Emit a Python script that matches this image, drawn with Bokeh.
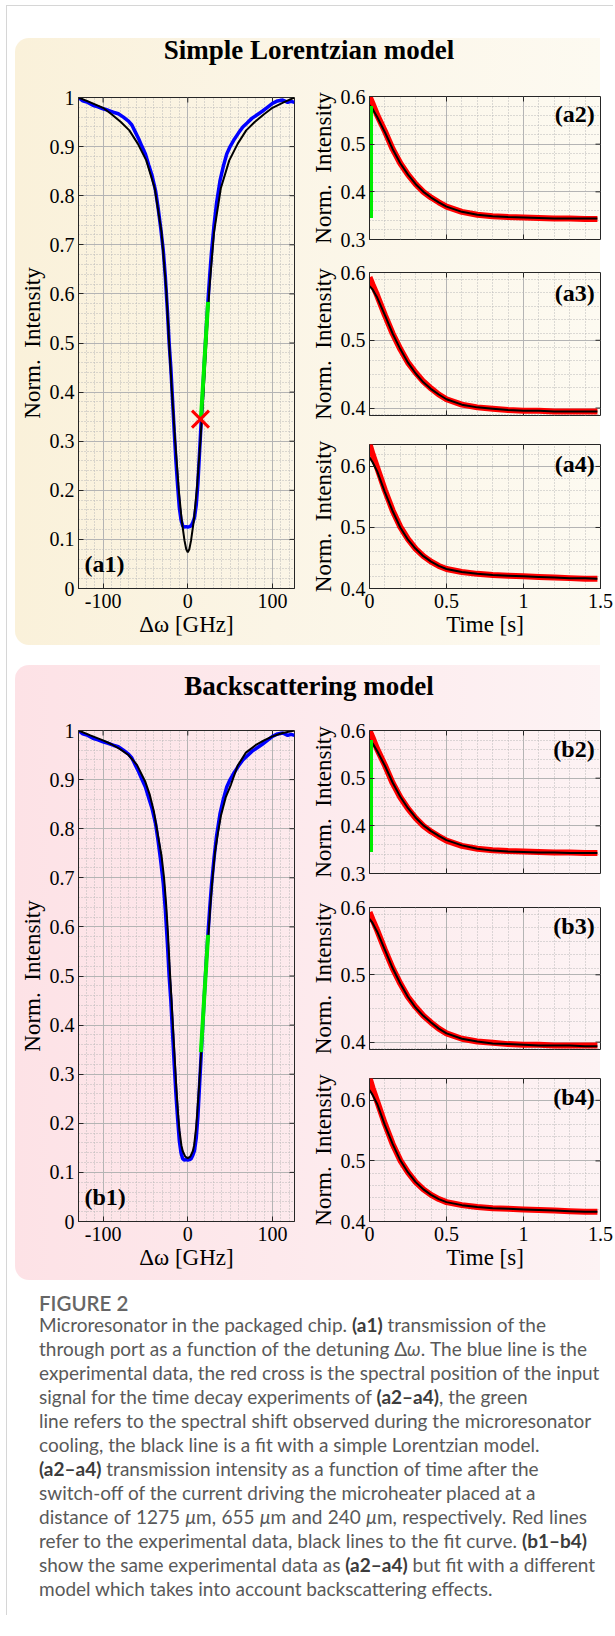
import numpy as np
from bokeh.plotting import figure
from bokeh.models import Range1d, FixedTicker, Label, Div, CustomJSTickFormatter
from bokeh.layouts import column, row
from bokeh.embed import file_html
from bokeh.resources import INLINE

# ---------------- data ----------------
# detuning scan (GHz) : experimental transmission (blue)
det_x = [-129, -124, -118, -112, -106, -100, -94, -88, -82, -76, -70, -66, -62, -58, -54, -50,
         -46, -42, -38, -35, -32, -29, -26.5, -24, -22, -20, -18, -16, -14, -12, -10, -8, -6,
         -4, -2, 0, 2, 4, 6, 8, 10, 12, 14, 16, 18, 20, 22, 24, 26, 28, 31, 34, 38, 42, 46,
         50, 55, 60, 65, 70, 76, 82, 88, 94, 100, 106, 112, 118, 122, 126]
det_blue = [1.0, 0.993, 0.99, 0.984, 0.981, 0.977, 0.974, 0.97, 0.967, 0.96, 0.952, 0.944,
            0.93, 0.916, 0.9, 0.885, 0.862, 0.84, 0.81, 0.775, 0.735, 0.69, 0.635, 0.565,
            0.5, 0.45, 0.385, 0.32, 0.26, 0.21, 0.165, 0.14, 0.128, 0.125, 0.126, 0.125,
            0.126, 0.128, 0.135, 0.145, 0.17, 0.215, 0.28, 0.345, 0.41, 0.475, 0.535, 0.59,
            0.64, 0.685, 0.74, 0.785, 0.83, 0.86, 0.885, 0.9, 0.915, 0.928, 0.94, 0.948,
            0.958, 0.965, 0.972, 0.98, 0.988, 0.993, 0.995, 0.99, 0.992, 0.99]

# simple Lorentzian fit (black, a1)
fit_a1_x = [-129, -115, -100, -90, -79, -69, -59, -49, -39, -31, -25.5, -22, -18.8, -14.9,
            -10.6, -7.1, -3.9, -1.8, 0, 1.8, 3.9, 7.1, 10.6, 14.9, 18.8, 22, 25.5, 31, 39,
            49, 59, 69, 79, 90, 100, 113, 126]
fit_a1_y = [1.0, 0.99, 0.979, 0.966, 0.95, 0.933, 0.906, 0.872, 0.815, 0.726, 0.611, 0.5,
            0.403, 0.301, 0.2, 0.138, 0.098, 0.08, 0.074, 0.08, 0.098, 0.138, 0.2, 0.301,
            0.403, 0.5, 0.611, 0.726, 0.815, 0.872, 0.906, 0.933, 0.95, 0.966, 0.979, 0.99, 1.0]

# backscattering fit (black, b1)
fit_b1_x = [-129, -115, -100, -90, -80, -70, -60, -50, -45, -40, -35, -31, -28, -25.5, -23.5,
            -21.6, -19.5, -17.6, -15.5, -13.7, -11.5, -9.8, -7.5, -5.9, -3, 0, 3, 5.9, 7.5,
            9.8, 11.5, 13.7, 15.7, 17.6, 19.7, 22.3, 24.5, 26.7, 29, 32.2, 35.5, 39.2, 45,
            51, 58.8, 68.6, 80, 90, 100, 112, 126]
fit_b1_y = [1.0, 0.99, 0.98, 0.972, 0.962, 0.95, 0.93, 0.895, 0.87, 0.835, 0.785, 0.745, 0.7,
            0.645, 0.59, 0.525, 0.46, 0.4, 0.335, 0.278, 0.22, 0.185, 0.155, 0.143, 0.132,
            0.129, 0.132, 0.143, 0.155, 0.19, 0.23, 0.285, 0.342, 0.4, 0.46, 0.523, 0.585,
            0.645, 0.695, 0.753, 0.79, 0.827, 0.865, 0.89, 0.928, 0.955, 0.97, 0.98, 0.988,
            0.995, 1.0]

# spectral shift during cooling (green) and input-signal position (red cross)
shift_x = [15.5, 24.0]
shift_y = [0.345, 0.584]
cross_x = [15.0]
cross_y = [0.345]

# time decays
time_t = [0.0, 0.02, 0.05, 0.1, 0.15, 0.2, 0.25, 0.3, 0.35, 0.4, 0.45, 0.5, 0.6, 0.7, 0.8,
          0.9, 1.0, 1.1, 1.2, 1.3, 1.4, 1.48]
red_2 = [0.600, 0.585, 0.561, 0.527, 0.490, 0.460, 0.436, 0.416, 0.400, 0.388, 0.378, 0.369,
         0.358, 0.352, 0.349, 0.347, 0.346, 0.345, 0.344, 0.344, 0.343, 0.343]
fit_a2 = [0.582, 0.574, 0.557, 0.525, 0.490, 0.460, 0.436, 0.416, 0.400, 0.388, 0.378, 0.369,
          0.358, 0.352, 0.349, 0.347, 0.346, 0.345, 0.344, 0.344, 0.344, 0.344]
fit_b2 = [0.580, 0.573, 0.557, 0.526, 0.491, 0.461, 0.437, 0.417, 0.401, 0.389, 0.379, 0.370,
          0.359, 0.352, 0.348, 0.346, 0.345, 0.344, 0.344, 0.343, 0.343, 0.343]
red_3 = [0.593, 0.582, 0.566, 0.537, 0.510, 0.487, 0.467, 0.452, 0.439, 0.429, 0.420, 0.413,
         0.405, 0.401, 0.399, 0.397, 0.396, 0.396, 0.395, 0.395, 0.395, 0.395]
fit_a3 = [0.580, 0.575, 0.563, 0.537, 0.510, 0.487, 0.467, 0.451, 0.438, 0.428, 0.420, 0.413,
          0.405, 0.401, 0.399, 0.397, 0.396, 0.396, 0.395, 0.395, 0.395, 0.395]
fit_b3 = [0.583, 0.577, 0.564, 0.537, 0.510, 0.487, 0.467, 0.451, 0.439, 0.429, 0.420, 0.413,
          0.405, 0.401, 0.398, 0.397, 0.396, 0.395, 0.395, 0.395, 0.394, 0.394]
red_4 = [0.637, 0.620, 0.598, 0.561, 0.528, 0.501, 0.481, 0.465, 0.453, 0.444, 0.437, 0.432,
         0.427, 0.424, 0.422, 0.421, 0.420, 0.419, 0.418, 0.417, 0.416, 0.416]
fit_a4 = [0.615, 0.607, 0.592, 0.558, 0.527, 0.500, 0.480, 0.465, 0.453, 0.444, 0.437, 0.432,
          0.427, 0.424, 0.422, 0.421, 0.420, 0.419, 0.418, 0.417, 0.417, 0.416]
fit_b4 = [0.617, 0.609, 0.594, 0.559, 0.528, 0.501, 0.481, 0.465, 0.453, 0.444, 0.437, 0.432,
          0.427, 0.424, 0.422, 0.421, 0.420, 0.419, 0.418, 0.417, 0.416, 0.416]
shift_t = [0.0, 0.0]
shift_i = [0.345, 0.58]

# axes ticks
det_ticks = [-100, 0, 100]
time_ticks = [0, 0.5, 1, 1.5]
int_ticks_full = [0, 0.1, 0.2, 0.3, 0.4, 0.5, 0.6, 0.7, 0.8, 0.9, 1]
int_ticks_2 = [0.3, 0.4, 0.5, 0.6]
int_ticks_34 = [0.4, 0.5, 0.6]

# ---------------- styling ----------------
SERIF = "Liberation Serif"
AX = "#262626"
BLUE = "#0000ff"
RED = "#ff0000"
GREEN = "#00ee00"
TICK_PX = 5


def minor(lo, hi, step, majors):
    vals = np.round(np.arange(lo, hi + step / 2, step), 4)
    return [float(v) for v in vals if all(abs(v - m) > 1e-6 for m in majors)]


def box_ticks(p, xr, yr, fw, fh, xt, yt, bottom_too):
    """inward tick marks on the top/right (and optionally bottom) frame edges"""
    dx = TICK_PX * (xr[1] - xr[0]) / fw
    dy = TICK_PX * (yr[1] - yr[0]) / fh
    yin = [v for v in yt if yr[0] < v < yr[1]]
    xin = [v for v in xt if xr[0] < v < xr[1]]
    p.segment(x0=[xr[1]] * len(yin), y0=yin, x1=[xr[1] - dx] * len(yin), y1=yin,
              line_color=AX, line_width=1)
    p.segment(x0=xin, y0=[yr[1]] * len(xin), x1=xin, y1=[yr[1] - dy] * len(xin),
              line_color=AX, line_width=1)
    if bottom_too:
        p.segment(x0=xin, y0=[yr[0]] * len(xin), x1=xin, y1=[yr[0] + dy] * len(xin),
                  line_color=AX, line_width=1)


def make_fig(fw, fh, xr, yr, borders, xt, xm, yt, ym, xlabel, ylabel, ylab_standoff):
    l, r, t, b = borders
    p = figure(frame_width=fw, frame_height=fh, x_range=Range1d(*xr), y_range=Range1d(*yr),
               output_backend="svg", toolbar_location=None,
               min_border_left=l, min_border_right=r, min_border_top=t, min_border_bottom=b,
               background_fill_color=None, border_fill_color=None,
               outline_line_color=AX, outline_line_width=1)
    xtk = FixedTicker(ticks=xt, minor_ticks=xm)
    ytk = FixedTicker(ticks=yt, minor_ticks=ym)
    xa = p.xaxis[0]
    ya = p.yaxis[0]
    xa.ticker = xtk
    ya.ticker = ytk
    for ax in (xa, ya):
        ax.formatter = CustomJSTickFormatter(code="return String(Math.round(tick*1000)/1000);")
        ax.major_tick_in = TICK_PX
        ax.major_tick_out = 0
        ax.minor_tick_in = 0
        ax.minor_tick_out = 0
        ax.major_tick_line_color = AX
        ax.axis_line_color = AX
        ax.major_label_text_font = SERIF
        ax.major_label_text_font_size = "20px"
        ax.major_label_text_color = "black"
        ax.axis_label_text_font = SERIF
        ax.axis_label_text_font_size = "23px"
        ax.axis_label_text_font_style = "normal"
        ax.axis_label_text_color = "black"
    ya.major_label_standoff = 4
    ya.axis_label_standoff = ylab_standoff
    ya.axis_label = ylabel
    if xlabel:
        xa.major_label_standoff = 5
        xa.axis_label_standoff = 1
        xa.axis_label = xlabel
    else:
        xa.visible = False
    p.xgrid[0].ticker = xtk
    p.ygrid[0].ticker = ytk
    for g in (p.xgrid[0], p.ygrid[0]):
        g.grid_line_color = "#b4b4b4"
        g.grid_line_width = 1
        g.minor_grid_line_color = "#b9b9b9"
        g.minor_grid_line_dash = "1 2"
        g.minor_grid_line_width = 1
    box_ticks(p, xr, yr, fw, fh, xt, yt, not xlabel)
    return p


def label(p, x, y, text, align):
    p.add_layout(Label(x=x, y=y, text=text, text_font=SERIF, text_font_style="bold",
                       text_font_size="24px", text_align=align, text_baseline="middle",
                       text_color="black"))


det_minor = minor(-120, 120, 10, det_ticks)
time_minor = minor(0, 1.5, 0.1, time_ticks)
full_minor = minor(0, 1, 0.02, int_ticks_full)
minor_2 = minor(0.3, 0.6, 0.02, int_ticks_2)
minor_3 = minor(0.39, 0.6, 0.02, int_ticks_34)
minor_4 = minor(0.4, 0.62, 0.02, int_ticks_34)

YL = "Norm.\u00a0 Intensity"


def detuning_panel(fit_x, fit_y, tag, top, bottom, with_cross):
    p = make_fig(216, 491, (-129, 126), (0, 1), (63, 9, top, bottom),
                 det_ticks, det_minor, int_ticks_full, full_minor, "Δω [GHz]", YL, 2)
    p.line(det_x, det_blue, line_color=BLUE, line_width=3.5)
    p.line(fit_x, fit_y, line_color="black", line_width=2)
    p.line(shift_x, shift_y, line_color=GREEN, line_width=4)
    if with_cross:
        p.scatter(cross_x, cross_y, marker="x", size=24, line_color=RED, line_width=3)
    label(p, -122, 0.05, tag, "left")
    return p


def decay_panel(fh, yr, borders, yt, ym, red, fit, tag, tag_y, xlabel, green):
    p = make_fig(231, fh, (0, 1.5), yr, borders, time_ticks, time_minor, yt, ym,
                 xlabel, YL, 2)
    p.line(time_t, red, line_color=RED, line_width=6)
    p.line(time_t, fit, line_color="black", line_width=2)
    if green:
        p.line(shift_t, shift_i, line_color=GREEN, line_width=7)
    label(p, 1.462, tag_y, tag, "right")
    return p


# ---------------- panel a ----------------
a1 = detuning_panel(fit_a1_x, fit_a1_y, "(a1)", 17, 57, True)
a2 = decay_panel(143, (0.3, 0.6), (66, 13, 16, 16), int_ticks_2, minor_2, red_2, fit_a2,
                 "(a2)", 0.564, None, True)
a3 = decay_panel(143, (0.389, 0.6), (66, 13, 17, 15), int_ticks_34, minor_3, red_3, fit_a3,
                 "(a3)", 0.570, None, False)
a4 = decay_panel(144, (0.4, 0.636), (66, 13, 14, 57), int_ticks_34, minor_4, red_4, fit_a4,
                 "(a4)", 0.604, "Time [s]", False)

# ---------------- panel b ----------------
b1 = detuning_panel(fit_b1_x, fit_b1_y, "(b1)", 17, 59, False)
b2 = decay_panel(143, (0.3, 0.6), (66, 13, 17, 16), int_ticks_2, minor_2, red_2, fit_b2,
                 "(b2)", 0.562, None, True)
b3 = decay_panel(142, (0.389, 0.6), (66, 13, 18, 15), int_ticks_34, minor_3, red_3, fit_b3,
                 "(b3)", 0.573, None, False)
b4 = decay_panel(143, (0.4, 0.636), (66, 13, 14, 59), int_ticks_34, minor_4, red_4, fit_b4,
                 "(b4)", 0.605, "Time [s]", False)


def title_div(text, h, pad):
    html = ('<div style="width:588px;text-align:center;font-family:\'Liberation Serif\';'
            'font-weight:bold;font-size:27px;line-height:24px;color:#000;padding-top:%dpx;">'
            '%s</div>' % (pad, text))
    return Div(text=html, width=598, height=h, margin=0)


panel_a = column(title_div("Simple Lorentzian model", 42, 0),
                 row(a1, column(a2, a3, a4)),
                 margin=(0, 0, 0, 8),
                 styles={"background": "linear-gradient(90deg, #faf1da 0px, #fbf5e6 260px, "
                                       "#fdfaf1 585px, rgba(255,255,255,0) 585px)",
                         "border-radius": "14px 0 0 14px"})
panel_b = column(title_div("Backscattering model", 48, 9),
                 row(b1, column(b2, b3, b4)),
                 margin=(0, 0, 0, 8),
                 styles={"background": "linear-gradient(90deg, #fde2e6 0px, #fde9ec 260px, "
                                       "#fdf3f4 585px, rgba(255,255,255,0) 585px)",
                         "border-radius": "14px 0 0 14px"})

B = '<b style="color:#3c3c3c;">%s</b>'
J = 'text-align:justify;text-align-last:justify;'
lines = [
    ("Microresonator in the packaged chip. " + B % "(a1)" + " transmission of the", False),
    ("through port as a function of the detuning Δ<i>ω</i>. The blue line is the", True),
    ("experimental data, the red cross is the spectral position of the input", True),
    ("signal for the time decay experiments of " + B % "(a2–a4)" + ", the green", False),
    ("line refers to the spectral shift observed during the microresonator", True),
    ("cooling, the black line is a fit with a simple Lorentzian model.", False),
    (B % "(a2–a4)" + " transmission intensity as a function of time after the", False),
    ("switch-off of the current driving the microheater placed at a", False),
    ("distance of 1275 <i>μ</i>m, 655 <i>μ</i>m and 240 <i>μ</i>m, respectively. Red lines", True),
    ("refer to the experimental data, black lines to the fit curve. " + B % "(b1–b4)", True),
    ("show the same experimental data as " + B % "(a2–a4)" + " but fit with a different", True),
    ("model which takes into account backscattering effects.", False),
]
body = "".join('<div style="width:548px;white-space:nowrap;line-height:24px;%s">%s</div>'
               % (J if j else "", t) for t, j in lines)
cap_html = ('<div style="font-family:Lato;color:#595959;font-size:19px;">'
            '<div style="font-size:20.5px;font-weight:600;color:#666;line-height:20px;'
            'padding-top:13px;">FIGURE 2</div>' + body + '</div>')
caption = Div(text=cap_html, width=570, height=335, margin=(0, 0, 0, 32))

top = Div(text="", width=598, height=32, margin=0)
gap = Div(text="", width=598, height=20, margin=0)

page = column(top, panel_a, gap, panel_b, caption, margin=(5, 0, 0, 6),
              styles={"border-left": "1px solid #d6d6d6", "border-top": "1px solid #d6d6d6"})

open("out.html", "w").write(file_html(page, INLINE, title="Figure 2"))
